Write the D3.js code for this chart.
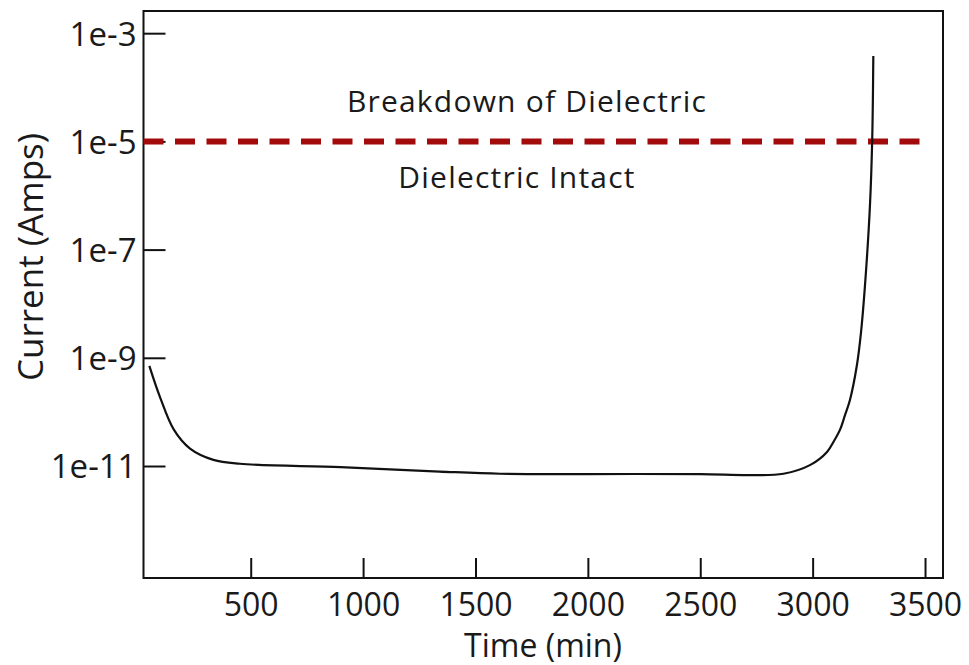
<!DOCTYPE html>
<html>
<head>
<meta charset="utf-8">
<script src="https://cdn.jsdelivr.net/npm/d3@7/dist/d3.min.js"></script>
<style>
  html, body { margin: 0; padding: 0; background: #fff; }
  svg { display: block; }
  text { font-family: "Open Sans", "DejaVu Sans", sans-serif; fill: #1a1a1a; }
</style>
</head>
<body>
<svg id="chart" width="969" height="665"></svg>
<script>
// Leakage current through the dielectric over time
const timeMin = [49, 96, 158, 230, 334, 452, 900, 1340, 1610, 2000, 2500, 2720, 2870, 2990, 3064, 3095, 3122, 3144, 3166, 3196, 3215, 3233, 3255, 3265, 3270];
const currentAmps = [7.1e-10, 1.9e-10, 4.7e-11, 2.1e-11, 1.3e-11, 1.1e-11, 9.5e-12, 7.9e-12, 7.2e-12, 7.1e-12, 7.1e-12, 6.8e-12, 7.2e-12, 1.05e-11, 1.82e-11, 2.9e-11, 4.7e-11, 8.7e-11, 1.66e-10, 6.9e-10, 2.9e-9, 2.2e-8, 6.5e-7, 1.07e-5, 3.8e-4];

// Breakdown threshold
const thresholdAmps = 1e-5;

// Axis ticks
const xTicks = [500, 1000, 1500, 2000, 2500, 3000, 3500];
const yTicks = [1e-3, 1e-5, 1e-7, 1e-9, 1e-11];
const yTickLabels = ["1e-3", "1e-5", "1e-7", "1e-9", "1e-11"];

const svg = d3.select("#chart");
const plot = { left: 143.5, right: 943, top: 11, bottom: 578 };

const x = d3.scaleLinear().domain([23, 3580]).range([plot.left, plot.right]);
const y = d3.scaleLog().domain([Math.pow(10, -13.07), Math.pow(10, -2.59)]).range([plot.bottom, plot.top]);

// Frame
svg.append("rect")
  .attr("x", plot.left).attr("y", plot.top)
  .attr("width", plot.right - plot.left).attr("height", plot.bottom - plot.top)
  .attr("fill", "none").attr("stroke", "#111").attr("stroke-width", 2);

// Y axis (ticks point inward)
const yAxis = d3.axisLeft(y).tickValues(yTicks).tickSize(-22)
  .tickFormat((d, i) => yTickLabels[i]);
const gy = svg.append("g").attr("transform", `translate(${plot.left},0)`).call(yAxis);
gy.select(".domain").remove();
gy.selectAll(".tick line").attr("stroke", "#111").attr("stroke-width", 2);
gy.selectAll(".tick text").attr("font-size", 33).attr("x", -7).attr("dy", "0.36em")
  .style("font-family", "'Open Sans', sans-serif").attr("fill", "#1a1a1a");

// X axis (ticks point inward)
const xAxis = d3.axisBottom(x).tickValues(xTicks).tickSize(-20).tickFormat(d3.format("d"));
const gx = svg.append("g").attr("transform", `translate(0,${plot.bottom})`).call(xAxis);
gx.select(".domain").remove();
gx.selectAll(".tick line").attr("stroke", "#111").attr("stroke-width", 2);
gx.selectAll(".tick text").attr("font-size", 32).attr("y", 38).attr("dy", 0)
  .style("font-family", "'Open Sans', sans-serif").attr("fill", "#1a1a1a");

// Threshold line
svg.append("line")
  .attr("x1", plot.left).attr("x2", x(3520))
  .attr("y1", y(thresholdAmps)).attr("y2", y(thresholdAmps))
  .attr("stroke", "#a10b0b").attr("stroke-width", 6)
  .attr("stroke-dasharray", "20,11.5");

// Current trace
const line = d3.line()
  .x((d, i) => x(timeMin[i]))
  .y((d, i) => y(currentAmps[i]))
  .curve(d3.curveCatmullRom.alpha(0.5));
svg.append("path")
  .datum(timeMin)
  .attr("d", line)
  .attr("fill", "none").attr("stroke", "#111").attr("stroke-width", 2.2);

// Region annotations
svg.append("text").attr("x", 527).attr("y", 112).attr("text-anchor", "middle")
  .attr("font-size", 30).attr("letter-spacing", 1.2).text("Breakdown of Dielectric");
svg.append("text").attr("x", 517).attr("y", 188).attr("text-anchor", "middle")
  .attr("font-size", 30).attr("letter-spacing", 1.2).text("Dielectric Intact");

// Axis titles
svg.append("text").attr("x", 543).attr("y", 657).attr("text-anchor", "middle")
  .attr("font-size", 32).text("Time (min)");
svg.append("text").attr("transform", "translate(43,257) rotate(-90)")
  .attr("text-anchor", "middle").attr("font-size", 35).text("Current (Amps)");
</script>
</body>
</html>
